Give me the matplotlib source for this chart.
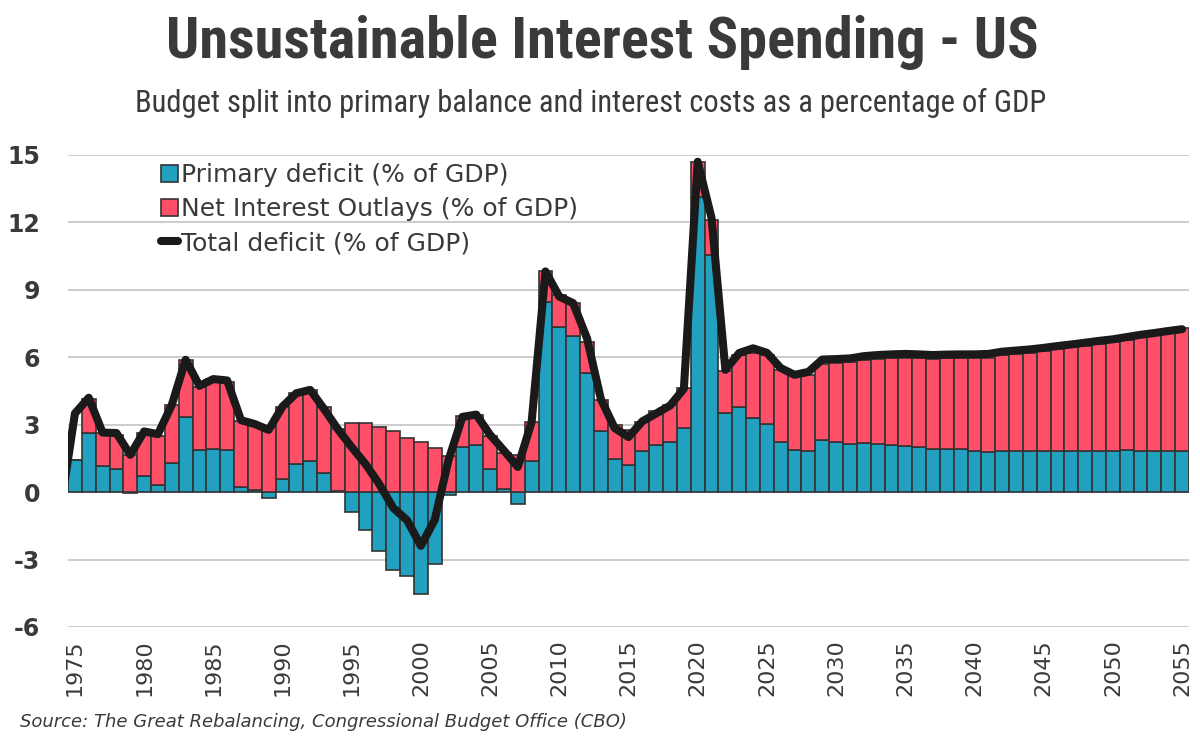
import numpy as np
import matplotlib
matplotlib.use('Agg')
import matplotlib.pyplot as plt
from matplotlib.patches import Patch
from matplotlib.lines import Line2D

# данные (оценка по картинке), % ВВП
years = list(range(1975, 2056))
primary = [1.44, 2.63, 1.17, 1.04, -0.05, 0.74, 0.32, 1.29, 3.34, 1.88,
           1.93, 1.88, 0.22, 0.10, -0.27, 0.59, 1.25, 1.39, 0.85, 0.05,
           -0.89, -1.68, -2.61, -3.46, -3.72, -4.53, -3.19, -0.12, 1.99, 2.10,
           1.02, 0.13, -0.53, 1.39, 8.46, 7.34, 6.93, 5.30, 2.73, 1.47,
           1.19, 1.84, 2.08, 2.21, 2.85, 13.13, 10.53, 3.51, 3.81, 3.29,
           3.03, 2.22, 1.88, 1.85, 2.30, 2.25, 2.15, 2.18, 2.15, 2.09,
           2.06, 2.03, 1.93, 1.91, 1.91, 1.84, 1.80, 1.84, 1.82, 1.82,
           1.82, 1.82, 1.83, 1.83, 1.83, 1.84, 1.88, 1.84, 1.85, 1.85,
           1.85]
interest = [0.00, 1.51, 1.48, 1.51, 1.66, 1.88, 2.18, 2.59, 2.55, 2.82,
            3.10, 3.00, 2.95, 2.90, 2.92, 3.18, 3.15, 3.16, 2.92, 2.75,
            3.07, 3.07, 2.89, 2.70, 2.43, 2.21, 1.96, 1.59, 1.38, 1.33,
            1.48, 1.60, 1.66, 1.71, 1.36, 1.44, 1.48, 1.40, 1.38, 1.53,
            1.58, 1.30, 1.51, 1.67, 1.78, 1.58, 1.56, 1.90, 2.30, 2.90,
            3.08, 3.22, 3.27, 3.37, 3.41, 3.49, 3.62, 3.68, 3.78, 3.87,
            3.93, 3.93, 3.99, 4.04, 4.05, 4.12, 4.19, 4.27, 4.33, 4.39,
            4.47, 4.54, 4.61, 4.68, 4.77, 4.83, 4.90, 5.06, 5.12, 5.23,
            5.45]
# линия начинается с 1974 (обрезается краем оси)
line_years = list(range(1974, 2056))
total = [-0.6, 3.5, 4.2, 2.65, 2.63, 1.66, 2.7, 2.58, 3.88, 5.89,
         4.73, 5.03, 4.97, 3.2, 3.03, 2.77, 3.81, 4.4, 4.55, 3.7,
         2.8, 2.0, 1.25, 0.35, -0.7, -1.25, -2.39, -1.23, 1.44, 3.35,
         3.45, 2.55, 1.85, 1.12, 3.12, 9.82, 8.7, 8.41, 6.85, 4.15,
         2.85, 2.45, 3.15, 3.5, 3.85, 4.6, 14.7, 12.2, 5.44, 6.19,
         6.4, 6.2, 5.52, 5.22, 5.35, 5.9, 5.92, 5.95, 6.05, 6.1,
         6.13, 6.15, 6.13, 6.1, 6.12, 6.13, 6.13, 6.15, 6.25, 6.3,
         6.35, 6.42, 6.5, 6.57, 6.65, 6.73, 6.8, 6.9, 7.0, 7.08,
         7.17, 7.25]
yticks = [-6, -3, 0, 3, 6, 9, 12, 15]
xticks = list(range(1975, 2056, 5))

teal = '#21a0bf'
red = '#ff4f69'
edge = '#333333'
txt = '#3a3a3a'
narrow = ['Roboto Condensed', 'DejaVu Sans']

fig = plt.figure(figsize=(12, 7.5), dpi=100)
ax = fig.add_axes([68 / 1200, 123 / 750, 1121 / 1200, 472 / 750])

prim = np.array(primary)
intr = np.array(interest)
bottom_red = np.where(prim > 0, prim, 0)

ax.bar(years, prim, width=1.0, color=teal, edgecolor=edge, linewidth=1.2, zorder=2)
ax.bar(years, intr, bottom=bottom_red, width=1.0, color=red, edgecolor=edge, linewidth=1.2, zorder=2)
ax.plot(line_years, total, color='#1a1a1a', linewidth=5.8, solid_capstyle='round',
        solid_joinstyle='round', zorder=3)

ax.set_xlim(1974.5, 2055.5)
ax.set_ylim(-6, 15)
ax.set_yticks(yticks)
ax.set_xticks(xticks)
ax.set_xticklabels([str(x) for x in xticks], rotation=90, fontsize=16, color=txt)
ax.set_yticklabels([str(y) for y in yticks], fontsize=17, fontweight='bold', color=txt)
ax.tick_params(axis='both', length=0)
ax.tick_params(axis='y', pad=20)
ax.tick_params(axis='x', pad=9)
ax.grid(axis='y', color='#c8c8c8', linewidth=1.3, zorder=0)
ax.set_axisbelow(True)
for s in ax.spines.values():
    s.set_visible(False)

handles = [Patch(facecolor=teal, edgecolor=edge, linewidth=1.2),
           Patch(facecolor=red, edgecolor=edge, linewidth=1.2),
           Line2D([0], [0], color='#1a1a1a', linewidth=5.8, solid_capstyle='round')]
labels = ['Primary deficit (% of GDP)', 'Net Interest Outlays (% of GDP)', 'Total deficit (% of GDP)']
leg = ax.legend(handles, labels, loc='upper left', bbox_to_anchor=(0.074, 1.004),
                frameon=False, fontsize=18, handlelength=0.7, handleheight=0.7,
                handletextpad=0.12, labelspacing=0.4, borderaxespad=0)
for t in leg.get_texts():
    t.set_color(txt)

fig.text(0.502, 0.944, 'Unsustainable Interest Spending - US', ha='center', va='center',
         fontsize=42, fontweight='bold', color=txt, family=narrow, fontstretch='condensed')
fig.text(0.492, 0.863, 'Budget split into primary balance and interest costs as a percentage of GDP',
         ha='center', va='center', fontsize=22, color=txt, family=narrow, fontstretch='condensed')
fig.text(0.017, 0.037, 'Source: The Great Rebalancing, Congressional Budget Office (CBO)',
         ha='left', va='center', fontsize=13, style='italic', color=txt)

plt.savefig('out.png', dpi=100)
plt.close()
